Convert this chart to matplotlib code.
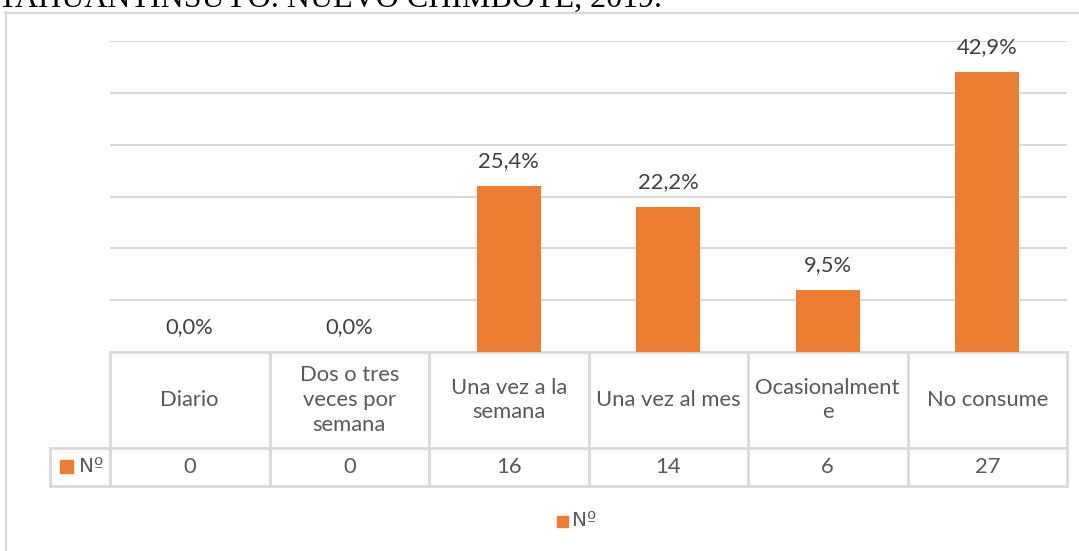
import matplotlib
matplotlib.use("Agg")
import matplotlib.pyplot as plt
from matplotlib.lines import Line2D
from matplotlib.patches import Rectangle
from matplotlib.transforms import blended_transform_factory

# ---- data ----
categories = ["Diario", "Dos o tres\nveces por\nsemana", "Una vez a la\nsemana",
              "Una vez al mes", "Ocasionalment\ne", "No consume"]
counts = [0, 0, 16, 14, 6, 27]
percent_labels = ["0,0%", "0,0%", "25,4%", "22,2%", "9,5%", "42,9%"]
series_name = "Nº"
title_text = "TAHUANTINSUYO. NUEVO CHIMBOTE, 2019."

W, H = 1079, 551
fig = plt.figure(figsize=(W / 100, H / 100), dpi=100)
FONT = "Lato"
TXT = "#595959"
LBL = "#404040"
GRID = "#D9D9D9"
BAR = "#ED7D31"
FS = 15.8

def fx(px):
    return px / W

def fy(py):
    return 1 - py / H

# clipped title at top (serif), as in the reference
fig.text(fx(-2), fy(7), title_text, family="Liberation Serif", fontsize=23,
         color="black", ha="left", va="baseline")

# chart area border (left and top)
fig.add_artist(Line2D([fx(5.5), fx(5.5)], [fy(12), fy(551)], color=GRID, lw=1.5))
fig.add_artist(Line2D([fx(5), fx(1079)], [fy(12.5), fy(12.5)], color=GRID, lw=1.5))

left, right, top, base = 110, 1067, 41, 352
ax = fig.add_axes([fx(left), fy(base), fx(right - left), (base - top) / H])
n = len(categories)
x = list(range(n))
ax.bar(x, counts, width=0.4, color=BAR, zorder=3)
ax.set_xlim(-0.5, n - 0.5)
ax.set_ylim(0, 30)
ax.set_yticks([5, 10, 15, 20, 25, 30])
ax.yaxis.grid(True, color=GRID, lw=1.5)
ax.set_axisbelow(True)
ax.tick_params(left=False, bottom=False, labelleft=False, labelbottom=False)
for s in ax.spines.values():
    s.set_visible(False)

for xi, c, lab in zip(x, counts, percent_labels):
    ax.annotate(lab, (xi, c), xytext=(0, 18), textcoords="offset points",
                ha="center", va="center", fontsize=FS, color=LBL, family=FONT)

# ---- data table ----
tr = blended_transform_factory(ax.transData, ax.transAxes)
plot_h = base - top

def ay(py):
    return (base - py) / plot_h

row1_bot = 448
row2_bot = 486
leg_left = -0.5 + (50 - left) / ((right - left) / n)
tl = dict(color=GRID, lw=2, transform=tr, clip_on=False)
ax.add_line(Line2D([-0.5, n - 0.5], [ay(base), ay(base)], **tl))
ax.add_line(Line2D([leg_left, n - 0.5], [ay(row1_bot), ay(row1_bot)], **tl))
ax.add_line(Line2D([leg_left, n - 0.5], [ay(row2_bot), ay(row2_bot)], **tl))
for i in range(n + 1):
    ax.add_line(Line2D([i - 0.5, i - 0.5], [ay(base), ay(row2_bot)], **tl))
ax.add_line(Line2D([leg_left, leg_left], [ay(row1_bot), ay(row2_bot)], **tl))

for xi, cat, c in zip(x, categories, counts):
    ax.text(xi, ay((base + row1_bot) / 2), cat, transform=tr, ha="center",
            va="center", fontsize=FS, color=TXT, family=FONT,
            linespacing=1.3, clip_on=False)
    ax.text(xi, ay((row1_bot + row2_bot) / 2), str(c), transform=tr, ha="center",
            va="center", fontsize=FS, color=TXT, family=FONT, clip_on=False)

# legend key in table
fig.add_artist(Rectangle((fx(60), fy(473)), fx(13), 13 / H, color=BAR))
fig.text(fx(79), fy(466), series_name, ha="left", va="center", fontsize=FS - 1.5,
         color=TXT, family="DejaVu Sans")

# bottom legend
fig.add_artist(Rectangle((fx(557), fy(527)), fx(11), 11 / H, color=BAR))
fig.text(fx(572), fy(520), series_name, ha="left", va="center", fontsize=FS - 1.5,
         color=TXT, family="DejaVu Sans")

fig.savefig("out.png", dpi=100)
